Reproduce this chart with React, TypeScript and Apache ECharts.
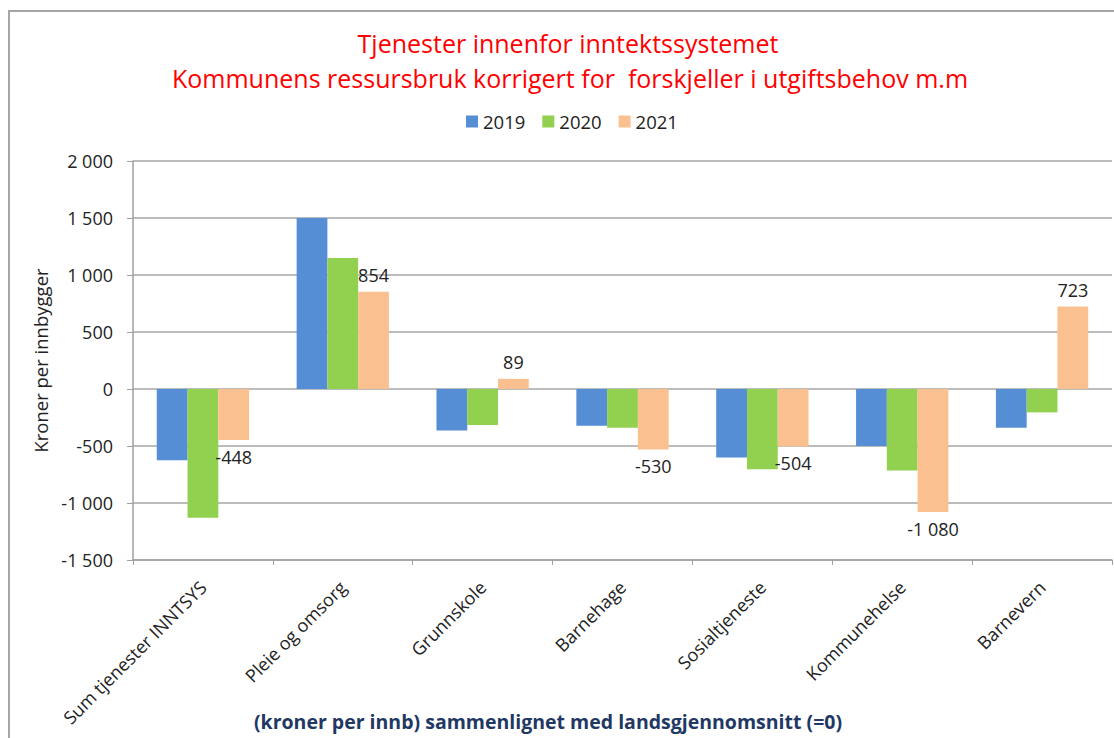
import React, { useEffect, useRef } from "react";
import * as echarts from "echarts";

const categories = [
  "Sum tjenester INNTSYS",
  "Pleie og omsorg",
  "Grunnskole",
  "Barnehage",
  "Sosialtjeneste",
  "Kommunehelse",
  "Barnevern",
];
const years = ["2019", "2020", "2021"];
const values2019 = [-625, 1500, -365, -322, -600, -500, -339];
const values2020 = [-1130, 1150, -315, -340, -705, -715, -205];
const values2021 = [-448, 854, 89, -530, -504, -1080, 723];
const colors = ["#558ED5", "#92D050", "#FAC090"];
const titleLines = [
  "Tjenester innenfor inntektssystemet",
  "Kommunens ressursbruk korrigert for  forskjeller i utgiftsbehov m.m",
];
const yAxisTitle = "Kroner per innbygger";
const xAxisTitle = "(kroner per innb) sammenlignet med landsgjennomsnitt (=0)";

const FONT = "'Open Sans', 'Noto Sans', sans-serif";

const fmt = (v: number) => {
  const s = Math.abs(Math.round(v)).toString().replace(/\B(?=(\d{3})+(?!\d))/g, " ");
  return (v < 0 ? "-" : "") + s;
};

export default function App() {
  const ref = useRef<HTMLDivElement>(null);
  useEffect(() => {
    if (!ref.current) return;
    const chart = echarts.init(ref.current, undefined, { renderer: "svg" });
    const seriesData = [values2019, values2020, values2021];
    chart.setOption({
      animation: false,
      backgroundColor: "#ffffff",
      textStyle: { fontFamily: FONT },
      graphic: [
        {
          type: "rect",
          shape: { x: 9, y: 11, width: 1140, height: 760 },
          style: { fill: "none", stroke: "#A6A6A6", lineWidth: 2 },
          silent: true,
        },
        {
          type: "text",
          x: 568,
          y: 43,
          style: {
            text: titleLines[0],
            fill: "#FF0000",
            font: `25px ${FONT}`,
            textAlign: "center",
            textVerticalAlign: "middle",
          },
        },
        {
          type: "text",
          x: 570,
          y: 78,
          style: {
            text: titleLines[1],
            fill: "#FF0000",
            font: `25px ${FONT}`,
            textAlign: "center",
            textVerticalAlign: "middle",
          },
        },
        {
          type: "text",
          x: 548,
          y: 721,
          style: {
            text: xAxisTitle,
            fill: "#1F3864",
            font: `bold 19.5px ${FONT}`,
            textAlign: "center",
            textVerticalAlign: "middle",
          },
        },
      ],
      legend: {
        data: years,
        left: 461,
        top: 107,
        itemWidth: 12,
        itemHeight: 12,
        itemGap: 17,
        icon: "rect",
        textStyle: { fontSize: 18.5, color: "#222", fontFamily: FONT },
      },
      grid: {
        left: 133,
        right: 2,
        top: 161,
        bottom: 178,
        containLabel: false,
        outerBoundsMode: "none",
      },
      xAxis: {
        type: "category",
        data: categories,
        axisLine: { onZero: false, lineStyle: { color: "#A0A0A0", width: 1.5 } },
        axisTick: { show: true, length: 5, lineStyle: { color: "#A0A0A0" } },
        axisLabel: {
          interval: 0,
          rotate: 45,
          fontSize: 18,
          color: "#222",
          margin: 24,
          fontFamily: FONT,
        },
      },
      yAxis: {
        type: "value",
        min: -1500,
        max: 2000,
        interval: 500,
        name: yAxisTitle,
        nameLocation: "middle",
        nameGap: 82,
        nameTextStyle: { fontSize: 18.5, color: "#222", fontFamily: FONT },
        axisLine: { show: true, lineStyle: { color: "#A0A0A0", width: 1.5 } },
        axisTick: { show: true, length: 6, lineStyle: { color: "#A0A0A0" } },
        splitLine: { lineStyle: { color: "#A6A6A6", width: 1.5 } },
        axisLabel: {
          fontSize: 18,
          color: "#222",
          margin: 20,
          fontFamily: FONT,
          formatter: (v: number) => fmt(v),
        },
      },
      series: years.map((y, i) => ({
        name: y,
        type: "bar",
        data: seriesData[i],
        barGap: "0%",
        barCategoryGap: "34%",
        itemStyle: { color: colors[i] },
        label:
          i === 2
            ? {
                show: true,
                position: "outside",
                distance: 8,
                fontSize: 18,
                color: "#222",
                fontFamily: FONT,
                formatter: (p: any) => fmt(p.value),
              }
            : { show: false },
      })),
    });
    return () => chart.dispose();
  }, []);
  return (
    <div
      ref={ref}
      style={{ position: "fixed", left: 0, top: 0, width: 1114, height: 738 }}
    />
  );
}
